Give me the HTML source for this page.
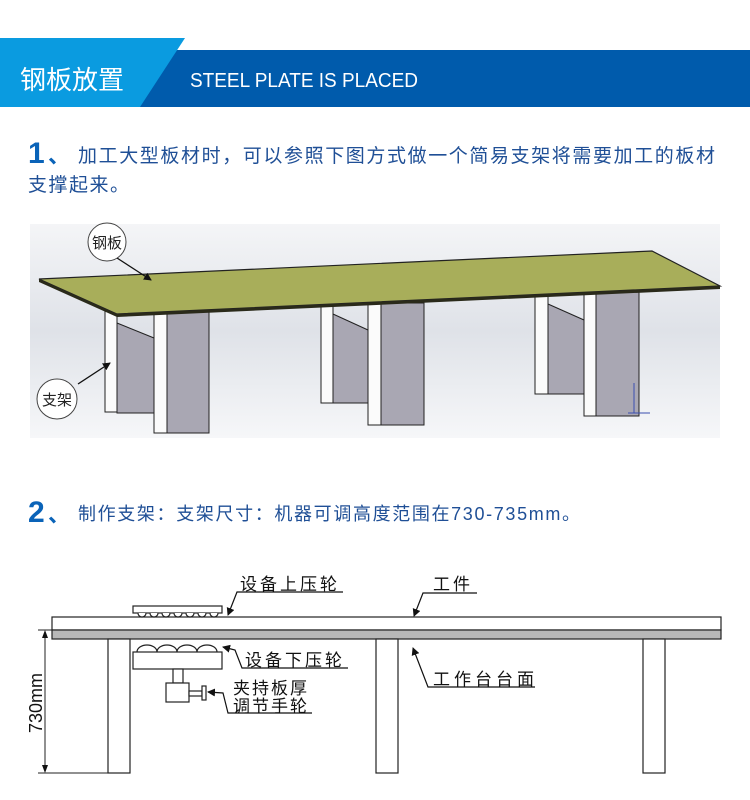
<!DOCTYPE html>
<html><head><meta charset="utf-8"><style>
html,body{margin:0;padding:0;background:#fff;width:750px;height:800px;overflow:hidden}
svg{display:block}
text{font-family:"Liberation Sans","Noto Sans CJK SC",sans-serif}
</style></head><body>
<svg width="750" height="800" viewBox="0 0 750 800" xmlns="http://www.w3.org/2000/svg">
<defs>
<linearGradient id="bg" x1="0" y1="0" x2="0" y2="1">
<stop offset="0" stop-color="#f4f5f7"/><stop offset="0.5" stop-color="#dfe2e8"/><stop offset="1" stop-color="#f6f7f9"/>
</linearGradient>
<marker id="ah" markerWidth="8" markerHeight="8" refX="7" refY="4" orient="auto" markerUnits="userSpaceOnUse">
<path d="M0,0 L8,4 L0,8 Z" fill="#111"/></marker>
</defs>
<rect x="140" y="50" width="610" height="57" fill="#005bac"/>
<polygon points="0,38 185,38 140,107 0,107" fill="#0a9be0"/>
<text x="20" y="89" font-size="26" fill="#fff">钢板放置</text>
<text x="190" y="87" font-size="20" fill="#fff" textLength="228" lengthAdjust="spacingAndGlyphs">STEEL PLATE IS PLACED</text>
<text x="28" y="163" font-size="30" font-weight="bold" fill="#0a63b8">1</text>
<text x="48" y="163" font-size="22" font-weight="bold" fill="#0a63b8">、</text>
<text x="78" y="162" font-size="19" fill="#1f4f96" textLength="637" lengthAdjust="spacing">加工大型板材时，可以参照下图方式做一个简易支架将需要加工的板材</text>
<text x="28" y="191" font-size="19" fill="#1f4f96" letter-spacing="1.5">支撑起来。</text>
<rect x="30" y="224" width="690" height="214" fill="url(#bg)"/>
<g stroke="#222" stroke-width="1">
<rect x="105" y="306" width="12" height="106" fill="#fbfbfb"/>
<polygon points="117,323 154,338 154,413 117,413" fill="#a9a7b3"/>
<rect x="154" y="312" width="13" height="121" fill="#fbfbfb"/>
<rect x="167" y="312" width="42" height="121" fill="#a9a7b3"/>
<rect x="321" y="300" width="12" height="103" fill="#fbfbfb"/>
<polygon points="333,314 368,330 368,403 333,403" fill="#a9a7b3"/>
<rect x="368" y="303" width="13" height="122" fill="#fbfbfb"/>
<rect x="381" y="303" width="43" height="122" fill="#a9a7b3"/>
<rect x="535" y="292" width="13" height="102" fill="#fbfbfb"/>
<polygon points="548,304 584,320 584,394 548,394" fill="#a9a7b3"/>
<rect x="584" y="292" width="12" height="124" fill="#fbfbfb"/>
<rect x="596" y="292" width="43" height="124" fill="#a9a7b3"/>
</g>
<polygon points="39,279 652,251 720,286 117,314" fill="#a8ae5a" stroke="#222" stroke-width="1.2"/>
<polygon points="39,279 117,314 720,286 720,289 117,317 39,282" fill="#2a2a1a"/>
<path d="M634,383 V413 M628,413 H650" stroke="#3a4fb0" stroke-width="1"/>
<circle cx="107" cy="242" r="19" fill="#fff" stroke="#444"/>
<text x="107" y="248" font-size="15" text-anchor="middle" fill="#222">钢板</text>
<line x1="117" y1="258" x2="151" y2="280" stroke="#111" stroke-width="1.3" marker-end="url(#ah)"/>
<circle cx="57" cy="399" r="20" fill="#fff" stroke="#444"/>
<text x="57" y="405" font-size="15" text-anchor="middle" fill="#222">支架</text>
<line x1="78" y1="384" x2="110" y2="363" stroke="#111" stroke-width="1.3" marker-end="url(#ah)"/>
<text x="28" y="522" font-size="30" font-weight="bold" fill="#0a63b8">2</text>
<text x="48" y="522" font-size="22" font-weight="bold" fill="#0a63b8">、</text>
<text x="78" y="520" font-size="18" fill="#1f4f96" textLength="502" lengthAdjust="spacing">制作支架：支架尺寸：机器可调高度范围在730-735mm。</text>
<g stroke="#222" stroke-width="1.2" fill="#fff">
<rect x="52" y="617" width="669" height="13"/>
<rect x="52" y="630" width="669" height="9" fill="#b8b8b8"/>
<rect x="108" y="639" width="22" height="134"/>
<rect x="376" y="639" width="22" height="134"/>
<rect x="643" y="639" width="22" height="134"/>
<rect x="133" y="606" width="89" height="7"/>
<path d="M138,613 a4,4 0 0 0 8,0 M150,613 a4,4 0 0 0 8,0 M162,613 a4,4 0 0 0 8,0 M174,613 a4,4 0 0 0 8,0 M186,613 a4,4 0 0 0 8,0 M198,613 a4,4 0 0 0 8,0 M210,613 a4,4 0 0 0 8,0"/>
<path d="M137,652 a10,7 0 0 1 20,0 M157,652 a10,7 0 0 1 20,0 M177,652 a10,7 0 0 1 20,0 M197,652 a10,7 0 0 1 20,0"/>
<rect x="133" y="652" width="89" height="17"/>
<rect x="173" y="669" width="10" height="14"/>
<rect x="166" y="683" width="23" height="19"/>
<rect x="189" y="691" width="13" height="5"/>
<rect x="202" y="686" width="4" height="14"/>
</g>
<g stroke="#222" stroke-width="1" fill="none">
<line x1="38" y1="630" x2="52" y2="630"/>
<line x1="38" y1="773" x2="108" y2="773"/>
<line x1="45" y1="633" x2="45" y2="770"/>
</g>
<path d="M45,630 l-3,8 h6 Z M45,773 l-3,-8 h6 Z" fill="#111"/>
<text transform="translate(42,703) rotate(-90)" font-size="18" text-anchor="middle" fill="#111">730mm</text>
<g stroke="#111" stroke-width="1.2" fill="none">
<polyline points="343,592 237,592 228,615" marker-end="url(#ah)"/>
<polyline points="477,593 423,593 414,616" marker-end="url(#ah)"/>
<polyline points="348,668 242,668 235,650 223,647" marker-end="url(#ah)"/>
<polyline points="312,713 228,713 223,693 208,692" marker-end="url(#ah)"/>
<polyline points="535,687 428,687 413,648" marker-end="url(#ah)"/>
</g>
<g font-size="17" fill="#111">
<text x="240" y="590" letter-spacing="3">设备上压轮</text>
<text x="433" y="590" letter-spacing="3">工件</text>
<text x="245" y="666" letter-spacing="3">设备下压轮</text>
<text x="233" y="694" letter-spacing="2">夹持板厚</text>
<text x="233" y="712" letter-spacing="2">调节手轮</text>
<text x="433" y="685" letter-spacing="4">工作台台面</text>
</g>
</svg>
</body></html>
